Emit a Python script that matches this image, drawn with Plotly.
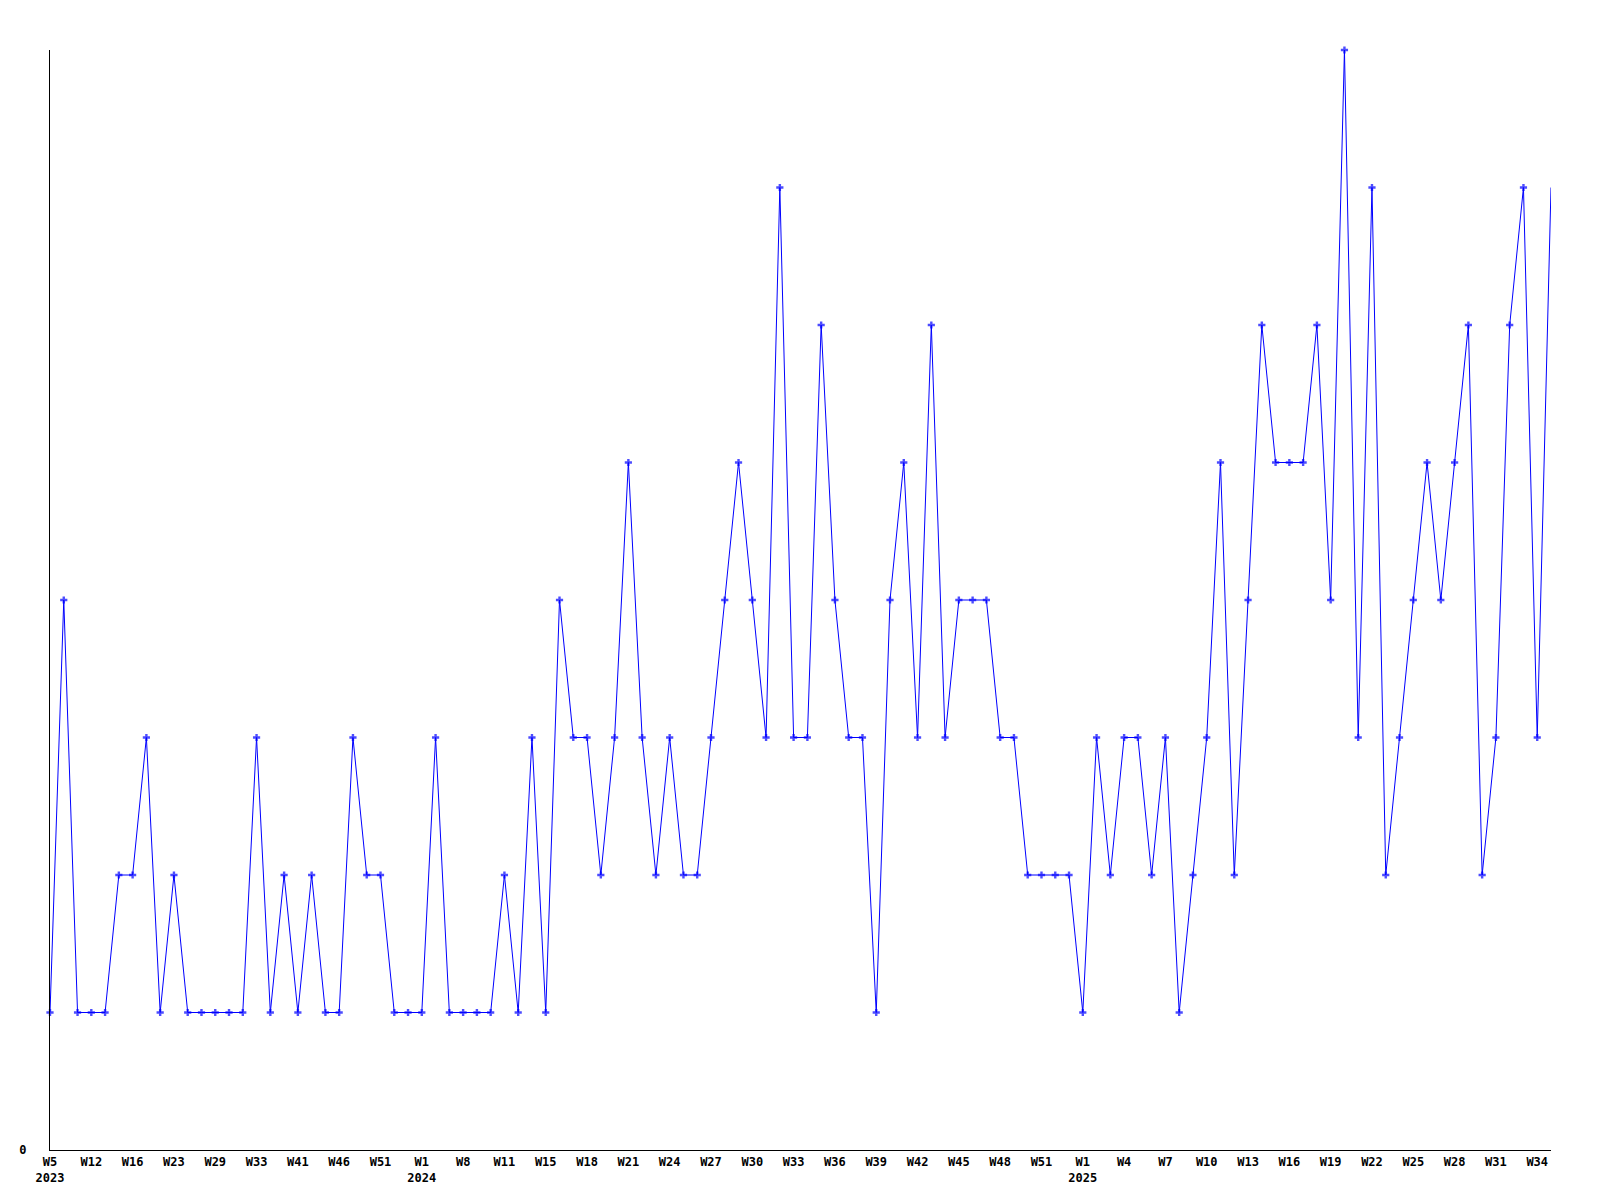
import plotly.graph_objects as go

# Weekly counts (one point per week present in the data)
values = [
    1, 4, 1, 1, 1, 2, 2, 3, 1, 2,
    1, 1, 1, 1, 1, 3, 1, 2, 1, 2,
    1, 1, 3, 2, 2, 1, 1, 1, 3, 1,
    1, 1, 1, 2, 1, 3, 1, 4, 3, 3,
    2, 3, 5, 3, 2, 3, 2, 2, 3, 4,
    5, 4, 3, 7, 3, 3, 6, 4, 3, 3,
    1, 4, 5, 3, 6, 3, 4, 4, 4, 3,
    3, 2, 2, 2, 2, 1, 3, 2, 3, 3,
    2, 3, 1, 2, 3, 5, 2, 4, 6, 5,
    5, 5, 6, 4, 8, 3, 7, 2, 3, 4,
    5, 4, 5, 6, 2, 3, 6, 7, 3, 7,
]

# Labels shown under every third point
tick_weeks = [
    "W5", "W12", "W16", "W23", "W29", "W33", "W41", "W46", "W51",
    "W1", "W8", "W11", "W15", "W18", "W21", "W24", "W27", "W30", "W33",
    "W36", "W39", "W42", "W45", "W48", "W51",
    "W1", "W4", "W7", "W10", "W13", "W16", "W19", "W22", "W25", "W28",
    "W31", "W34",
]
tick_years = ["2023"] + [""] * 8 + ["2024"] + [""] * 15 + ["2025"] + [""] * 11
tick_step = 3

n = len(values)
x = list(range(n))
tickvals = [i * tick_step for i in range(len(tick_weeks))]
ticktext = [w + ("<br>" + y if y else "") for w, y in zip(tick_weeks, tick_years)]

marker_sizes = [6] * (n - 1) + [0]

fig = go.Figure()
fig.add_trace(go.Scatter(
    x=x, y=values,
    mode="lines+markers",
    line=dict(color="#0000FF", width=1),
    marker=dict(symbol="cross", size=marker_sizes, color="#0000FF",
                line=dict(width=0)),
    cliponaxis=False,
    showlegend=False,
    hoverinfo="skip",
))

font = dict(family="DejaVu Sans Mono", size=12, color="black", weight="bold")

# The page body adds an 8px margin, so the figure is sized/offset to match
fig.update_layout(
    width=1592, height=1192,
    margin=dict(l=42, r=49, t=42, b=50),
    paper_bgcolor="white", plot_bgcolor="white",
    font=font,
    showlegend=False,
)
fig.update_xaxes(
    range=[0, n - 1],
    tickmode="array", tickvals=tickvals, ticktext=ticktext,
    ticks="", showgrid=False, zeroline=False,
    showline=True, linecolor="black", linewidth=1,
    tickfont=font, ticklabelstandoff=1,
)
fig.update_yaxes(
    range=[0, 8],
    tickmode="array", tickvals=[0], ticktext=["0"],
    ticks="", showgrid=False, zeroline=False,
    showline=True, linecolor="black", linewidth=1,
    tickfont=font, ticklabelstandoff=20,
)

fig.write_html("out.html")
